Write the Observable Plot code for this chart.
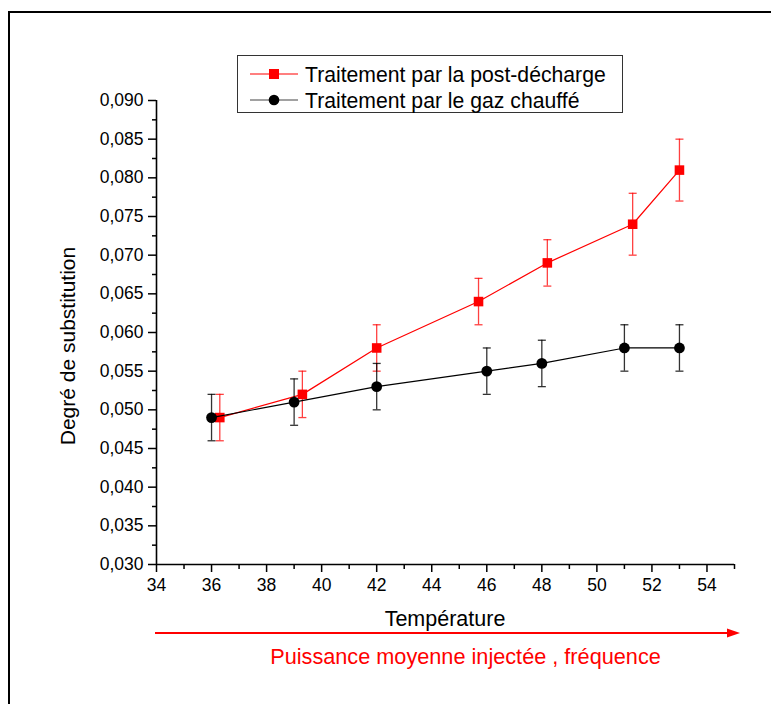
<!DOCTYPE html>
<html><head><meta charset="utf-8">
<script src="https://cdn.jsdelivr.net/npm/d3@7"></script>
<script src="https://cdn.jsdelivr.net/npm/@observablehq/plot@0.6"></script>
<style>
body{margin:0;background:#fff}
#chart{position:relative;width:771px;height:704px;overflow:hidden}
</style>
</head><body><div id="chart"></div>
<script>
// ---- data ----
const seriesNames = ["Traitement par la post-décharge", "Traitement par le gaz chauffé"];
const redX = [36.3, 39.3, 42, 45.7, 48.2, 51.3, 53];
const redY = [0.049, 0.052, 0.058, 0.064, 0.069, 0.074, 0.081];
const redErr = [0.003, 0.003, 0.003, 0.003, 0.003, 0.004, 0.004];
const blackX = [36, 39, 42, 46, 48, 51, 53];
const blackY = [0.049, 0.051, 0.053, 0.055, 0.056, 0.058, 0.058];
const blackErr = [0.003, 0.003, 0.003, 0.003, 0.003, 0.003, 0.003];
const xTicks = [34, 36, 38, 40, 42, 44, 46, 48, 50, 52, 54];
const xMinorTicks = [35, 37, 39, 41, 43, 45, 47, 49, 51, 53, 55];
const yTicks = [0.030, 0.035, 0.040, 0.045, 0.050, 0.055, 0.060, 0.065, 0.070, 0.075, 0.080, 0.085, 0.090];
const yMinorTicks = [0.0325, 0.0375, 0.0425, 0.0475, 0.0525, 0.0575, 0.0625, 0.0675, 0.0725, 0.0775, 0.0825, 0.0875];
const xLabel = "Température";
const yLabel = "Degré de substitution";
const noteLabel = "Puissance moyenne injectée , fréquence";

const red = redX.map((x, i) => ({x, y: redY[i], e: redErr[i]}));
const blk = blackX.map((x, i) => ({x, y: blackY[i], e: blackErr[i]}));

const cap = {draw(ctx, size) { const r = Math.sqrt(size / Math.PI); ctx.moveTo(-r, 0); ctx.lineTo(r, 0); }};
const FONT = "'Liberation Sans', Arial, sans-serif";

function errMarks(data, color, op) {
  return [
    Plot.ruleX(data, {x: "x", y1: d => d.y - d.e, y2: d => d.y + d.e, stroke: color, strokeWidth: 1.3, strokeOpacity: op}),
    Plot.dot(data, {x: "x", y: d => d.y - d.e, symbol: cap, r: 4, stroke: color, fill: "none", strokeWidth: 1.3, strokeOpacity: op}),
    Plot.dot(data, {x: "x", y: d => d.y + d.e, symbol: cap, r: 4, stroke: color, fill: "none", strokeWidth: 1.3, strokeOpacity: op})
  ];
}

const chart = Plot.plot({
  width: 771, height: 704,
  marginLeft: 156, marginRight: 37, marginTop: 100, marginBottom: 140,
  style: {fontFamily: FONT, fontSize: "17.5px", background: "white", color: "black", overflow: "visible"},
  x: {domain: [34, 55]},
  y: {domain: [0.030, 0.090]},
  marks: [
    Plot.axisY({ticks: yTicks, tickSize: 8, tickPadding: 5, strokeWidth: 1.5, tickFormat: d => d.toFixed(3).replace(".", ","), label: null, fontSize: 17.5}),
    Plot.axisY({ticks: yMinorTicks, tickSize: 4, strokeWidth: 1.5, tickFormat: () => "", label: null}),
    Plot.axisX({ticks: xTicks, tickSize: 8, tickPadding: 6, strokeWidth: 1.5, tickFormat: d => String(d), label: null, fontSize: 17.5}),
    Plot.axisX({ticks: xMinorTicks, tickSize: 5, strokeWidth: 1.5, tickFormat: () => "", label: null}),
    Plot.ruleY([0.030], {stroke: "black", strokeWidth: 1.6}),
    Plot.ruleX([34], {y1: 0.030, y2: 0.090, stroke: "black", strokeWidth: 1.6}),
    ...errMarks(red, "#ff0000", 0.75),
    Plot.line(red, {x: "x", y: "y", stroke: "#ff0000", strokeWidth: 1.2}),
    Plot.dot(red, {x: "x", y: "y", symbol: "square", r: 5.4, fill: "#ff0000", stroke: "none"}),
    ...errMarks(blk, "#000000", 0.8),
    Plot.line(blk, {x: "x", y: "y", stroke: "#000000", strokeWidth: 1.2}),
    Plot.dot(blk, {x: "x", y: "y", symbol: "circle", r: 5.4, fill: "#000000", stroke: "none"})
  ]
});

const svg = d3.select(chart);
// outer frame
svg.insert("rect", ":first-child").attr("x", 9).attr("y", 12).attr("width", 820).attr("height", 800)
  .attr("fill", "none").attr("stroke", "black").attr("stroke-width", 2);

// legend
const lg = svg.append("g").attr("font-family", FONT).attr("text-anchor", "start");
lg.append("rect").attr("x", 237.5).attr("y", 55.5).attr("width", 385).attr("height", 57)
  .attr("fill", "white").attr("stroke", "#333").attr("stroke-width", 1);
const legendItems = [
  {name: seriesNames[0], color: "#ff0000", sym: "square", y: 74},
  {name: seriesNames[1], color: "#000000", sym: "circle", y: 100}
];
legendItems.forEach(it => {
  lg.append("line").attr("x1", 250).attr("x2", 298).attr("y1", it.y).attr("y2", it.y)
    .attr("stroke", it.color === "#000000" ? "#444" : it.color).attr("stroke-width", 1.2);
  if (it.sym === "square") lg.append("rect").attr("x", 269).attr("y", it.y - 5).attr("width", 10).attr("height", 10).attr("fill", it.color);
  else lg.append("circle").attr("cx", 274).attr("cy", it.y).attr("r", 5.3).attr("fill", it.color);
  lg.append("text").attr("x", 305).attr("y", it.y + 7.5).attr("text-anchor", "start").attr("font-size", 21.2).attr("fill", "black").text(it.name);
});

// axis titles
svg.append("text").attr("transform", "translate(75,346) rotate(-90)").attr("text-anchor", "middle")
  .attr("font-family", FONT).attr("font-size", 21).attr("fill", "black").text(yLabel);
svg.append("text").attr("x", 445).attr("y", 626).attr("text-anchor", "middle")
  .attr("font-family", FONT).attr("font-size", 21.5).attr("fill", "black").text(xLabel);

// red arrow
svg.append("line").attr("x1", 155).attr("x2", 730).attr("y1", 633).attr("y2", 633)
  .attr("stroke", "#ff0000").attr("stroke-width", 2);
svg.append("path").attr("d", "M740,633 L727,628.5 L727,637.5 Z").attr("fill", "#ff0000");
svg.append("text").attr("x", 465.5).attr("y", 664).attr("text-anchor", "middle")
  .attr("font-family", FONT).attr("font-size", 21.7).attr("fill", "#ff0000").text(noteLabel);

document.getElementById("chart").appendChild(chart);
</script>
</body></html>
